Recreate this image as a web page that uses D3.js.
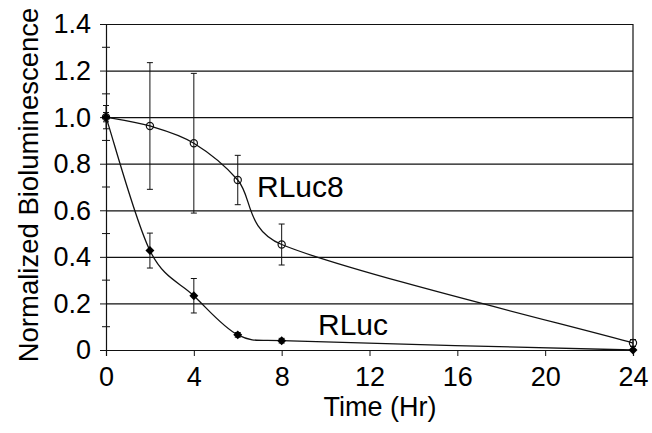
<!DOCTYPE html>
<meta charset="utf-8">
<script src="https://d3js.org/d3.v7.min.js"></script>
<style>
  body { margin: 0; background: #fff; }
  svg { font-family: 'Liberation Sans', Arial, sans-serif; }
</style>
<body>
<div id="chart"></div>
<script>

var hours = [0, 2, 4, 6, 8, 24]
var rluc8 = [1.0, 0.962, 0.888, 0.73, 0.453, 0.03]
var rluc8Err = [0.05, 0.272, 0.3, 0.106, 0.088, 0.015]
var rluc = [1.0, 0.427, 0.233, 0.065, 0.04, 0.0]
var rlucErr = [0.02, 0.075, 0.074, 0.01, 0.01, 0.0]
var xTicks = [0, 4, 8, 12, 16, 20, 24]
var yTicks = [0, 0.2, 0.4, 0.6, 0.8, 1.0, 1.2, 1.4]
var yMinor = [0.1, 0.3, 0.5, 0.7, 0.9, 1.1, 1.3]

var width = 652,
    height = 433

var x = d3.scaleLinear().domain([0, 24]).range([106, 633])
var y = d3.scaleLinear().domain([0, 1.4]).range([350, 24])

var svg = d3.select("#chart")
  .append("svg")
    .attr("width", width)
    .attr("height", height)

// gridlines
svg.append("g")
  .attr("transform", "translate(" + x(0) + ",0)")
  .call(d3.axisRight(y).tickValues(yTicks.slice(1)).tickSize(x(24) - x(0)).tickFormat(""))
  .call(function(g) { g.select(".domain").remove() })
  .selectAll("line").attr("stroke", "#111").attr("stroke-width", 1.2)

// right border
svg.append("line")
  .attr("x1", x(24)).attr("x2", x(24))
  .attr("y1", y(1.4)).attr("y2", y(0))
  .attr("stroke", "#111").attr("stroke-width", 1.2)

// minor ticks on y axis (crossing)
svg.selectAll("minor")
  .data(yMinor)
  .enter()
  .append("line")
    .attr("x1", x(0) - 4).attr("x2", x(0) + 4)
    .attr("y1", function(d) { return y(d) })
    .attr("y2", function(d) { return y(d) })
    .attr("stroke", "#111")

// y axis
var yAxis = svg.append("g")
  .attr("transform", "translate(" + x(0) + ",0)")
  .call(d3.axisLeft(y).tickValues(yTicks).tickSize(6).tickPadding(9)
    .tickFormat(function(d) { return d === 0 ? "0" : d3.format(".1f")(d) }))
yAxis.select(".domain").attr("stroke", "#111").attr("stroke-width", 1.2)
yAxis.selectAll("line").attr("stroke", "#111")
yAxis.selectAll("text")
  .attr("font-size", "27px")
  .attr("fill", "#000")
  .attr("font-family", "'Liberation Sans', Arial, sans-serif")
  .attr("dy", "0.33em")

// x axis
var xAxis = svg.append("g")
  .attr("transform", "translate(0," + y(0) + ")")
  .call(d3.axisBottom(x).tickValues(xTicks).tickSize(6).tickFormat(d3.format("d")))
xAxis.select(".domain").attr("stroke", "#111").attr("stroke-width", 1.2)
xAxis.selectAll("line").attr("stroke", "#111")
xAxis.selectAll("text")
  .attr("font-size", "27px")
  .attr("fill", "#000")
  .attr("font-family", "'Liberation Sans', Arial, sans-serif")
  .attr("y", 36)
  .attr("dy", 0)

// axis titles
svg.append("text")
  .attr("x", 380)
  .attr("y", 416)
  .attr("text-anchor", "middle")
  .style("font-size", "27px")
  .text("Time (Hr)")

svg.append("text")
  .attr("transform", "translate(38," + 185 + ") rotate(-90)")
  .attr("text-anchor", "middle")
  .style("font-size", "27.5px")
  .text("Normalized Bioluminescence")

// spreadsheet-style smoothed line: bezier segments, control arms capped at half a segment
function curveSmooth(context) {
  var pts
  function dist(a, b) { return Math.hypot(b[0] - a[0], b[1] - a[1]) }
  return {
    areaStart: function() {},
    areaEnd: function() {},
    lineStart: function() { pts = [] },
    point: function(px, py) { pts.push([+px, +py]) },
    lineEnd: function() {
      var n = pts.length
      if (!n) return
      context.moveTo(pts[0][0], pts[0][1])
      for (var i = 0; i < n - 1; i++) {
        var p0 = pts[Math.max(i - 1, 0)], p1 = pts[i], p2 = pts[i + 1], p3 = pts[Math.min(i + 2, n - 1)]
        var d12 = dist(p1, p2), d02 = dist(p0, p2), d13 = dist(p1, p3)
        var f0 = 1 / 6, f3 = 1 / 6
        if (d02 / 6 > d12 / 2) f0 = d12 / d02 / 2
        if (d13 / 6 > d12 / 2) f3 = d12 / d13 / 2
        context.bezierCurveTo(
          p1[0] + (p2[0] - p0[0]) * f0, p1[1] + (p2[1] - p0[1]) * f0,
          p2[0] - (p3[0] - p1[0]) * f3, p2[1] - (p3[1] - p1[1]) * f3,
          p2[0], p2[1])
      }
    }
  }
}

var line = d3.line()
  .x(function(d) { return x(d[0]) })
  .y(function(d) { return y(d[1]) })
  .curve(curveSmooth)

function drawSeries(vals, errs, marker) {
  var pts = hours.map(function(h, i) { return [h, vals[i], errs[i]] })

  svg.append("path")
    .datum(pts)
    .attr("d", line)
    .attr("fill", "none")
    .attr("stroke", "#111")
    .attr("stroke-width", 1.3)

  var eb = svg.selectAll(null)
    .data(pts.filter(function(d) { return d[2] > 0 }))
    .enter()
    .append("g")
  eb.append("line")
    .attr("x1", function(d) { return x(d[0]) })
    .attr("x2", function(d) { return x(d[0]) })
    .attr("y1", function(d) { return y(d[1] + d[2]) })
    .attr("y2", function(d) { return y(d[1] - d[2]) })
    .attr("stroke", "#111")
  eb.append("line")
    .attr("x1", function(d) { return x(d[0]) - 3 })
    .attr("x2", function(d) { return x(d[0]) + 3 })
    .attr("y1", function(d) { return y(d[1] + d[2]) })
    .attr("y2", function(d) { return y(d[1] + d[2]) })
    .attr("stroke", "#111")
  eb.append("line")
    .attr("x1", function(d) { return x(d[0]) - 3 })
    .attr("x2", function(d) { return x(d[0]) + 3 })
    .attr("y1", function(d) { return y(d[1] - d[2]) })
    .attr("y2", function(d) { return y(d[1] - d[2]) })
    .attr("stroke", "#111")

  if (marker === "circle") {
    svg.selectAll(null)
      .data(pts)
      .enter()
      .append("circle")
        .attr("cx", function(d) { return x(d[0]) })
        .attr("cy", function(d) { return y(d[1]) })
        .attr("r", 3.6)
        .attr("fill", "none")
        .attr("stroke", "#111")
        .attr("stroke-width", 1.2)
  } else {
    svg.selectAll(null)
      .data(pts)
      .enter()
      .append("path")
        .attr("d", d3.symbol(d3.symbolSquare).size(40))
        .attr("transform", function(d) {
          return "translate(" + x(d[0]) + "," + y(d[1]) + ") rotate(45)"
        })
        .attr("fill", "#000")
  }
}

drawSeries(rluc8, rluc8Err, "circle")
drawSeries(rluc, rlucErr, "diamond")

// series labels
svg.append("text")
  .attr("x", 257)
  .attr("y", 197)
  .style("font-size", "30px")
  .text("RLuc8")

svg.append("text")
  .attr("x", 318)
  .attr("y", 335)
  .style("font-size", "30px")
  .text("RLuc")

</script>
</body>
